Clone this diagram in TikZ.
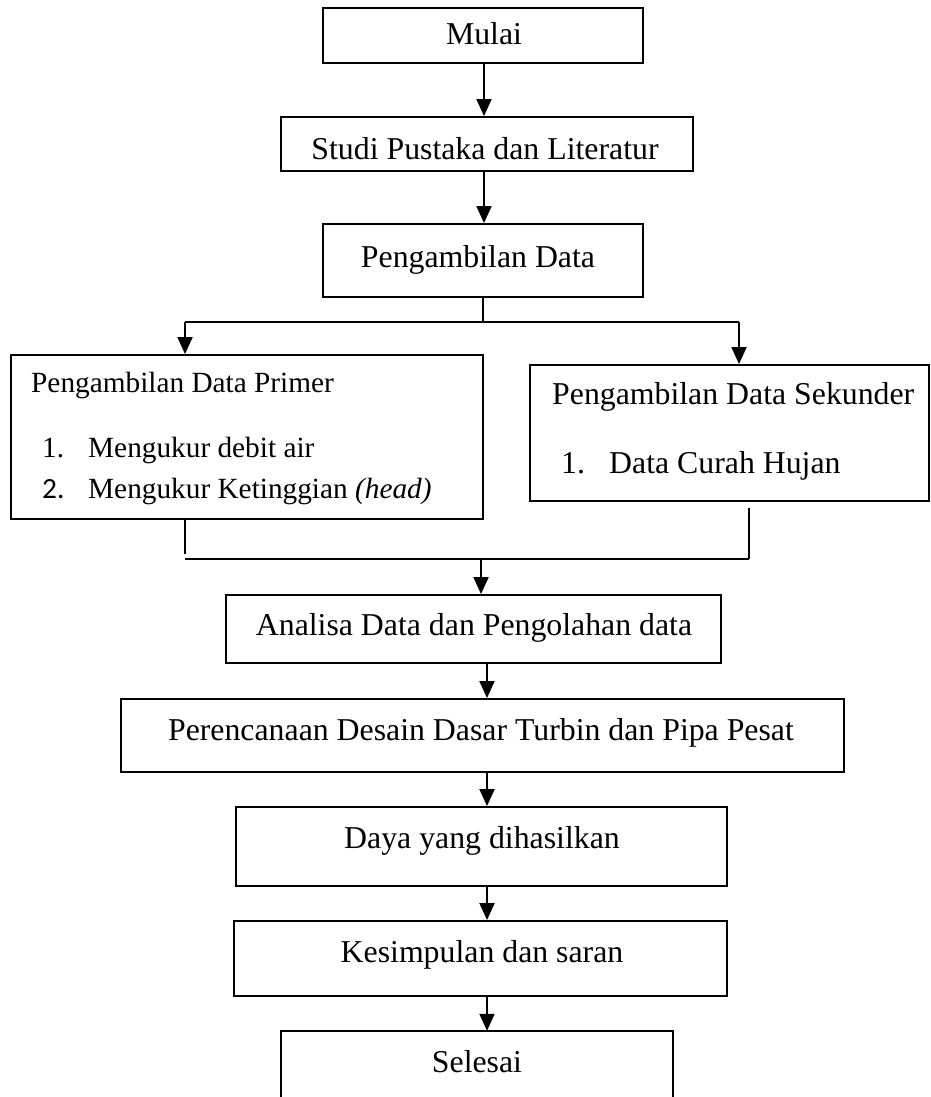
\documentclass[tikz,border=0pt]{standalone}
\usepackage{fontspec}
\setmainfont{Liberation Serif}
\newfontfamily\calib{Carlito}
\usetikzlibrary{arrows.meta,fit,calc}
\newcommand\fbig{\fontsize{31.8pt}{38pt}\selectfont}
\newcommand\fsmall{\fontsize{29.3pt}{35pt}\selectfont}
\begin{document}
\begin{tikzpicture}[x=1pt,y=-1pt,
  box/.style={draw, line width=1.9pt, inner sep=0pt, rectangle},
  lbl/.style={inner sep=0pt, font=\fbig},
  slbl/.style={inner sep=0pt, font=\fsmall},
  conn/.style={line width=1.9pt},
  arr/.style={line width=1.9pt, -{Triangle[length=17pt,width=15pt]}}]
\useasboundingbox (0,0) rectangle (931,1097);
% boxes
\node[box, fit={(323,8) (643,63)}] (mulai) {};
\node[box, fit={(281,117) (693,171)}] (studi) {};
\node[box, fit={(323,224) (643,297)}] (pdata) {};
\node[box, fit={(11,355) (483,519)}] (primer) {};
\node[box, fit={(530,365) (929,501)}] (sekunder) {};
\node[box, fit={(226,595) (721,663)}] (analisa) {};
\node[box, fit={(121,699) (844,772)}] (perenc) {};
\node[box, fit={(236,807) (727,886)}] (daya) {};
\node[box, fit={(234,921) (727,996)}] (kesimp) {};
\node[inner sep=0pt, fit={(281,1031) (673,1100)}] (selesai) {};
\draw[line width=1.9pt] (selesai.south west) -- (selesai.north west) -- (selesai.north east) -- (selesai.south east);
% texts
\node[lbl, anchor=base] (tmulai) at (484,45) {Mulai};
\node[lbl, anchor=base] (tstudi) at (485,159) {Studi Pustaka dan Literatur};
\node[lbl, anchor=base] (tpdata) at (478,267) {Pengambilan Data};
\node[slbl, anchor=base west] (tprimer) at (31,392) {Pengambilan Data Primer};
\node[slbl, anchor=base west] (n1) at (42,457) {1.};
\node[slbl, anchor=base west] (p1) at (88,457) {Mengukur debit air};
\node[slbl, anchor=base west] (n2) at (42,498) {\calib 2.};
\node[slbl, anchor=base west] (p2) at (88,498) {Mengukur Ketinggian \textit{(head)}};
\node[lbl, anchor=base west] (tsek) at (552,404) {Pengambilan Data Sekunder};
\node[lbl, anchor=base west] (m1) at (561,473) {1.};
\node[lbl, anchor=base west] (s1) at (609,473) {Data Curah Hujan};
\node[lbl, anchor=base] (tanalisa) at (474,635) {Analisa Data dan Pengolahan data};
\node[lbl, anchor=base] (tperenc) at (481,740) {Perencanaan Desain Dasar Turbin dan Pipa Pesat};
\node[lbl, anchor=base] (tdaya) at (482,848) {Daya yang dihasilkan};
\node[lbl, anchor=base] (tkesimp) at (482,962) {Kesimpulan dan saran};
\node[lbl, anchor=base] (tselesai) at (477,1072) {Selesai};
% connectors
\coordinate (tx) at (484,0);
\draw[arr] (mulai.south -| tx) -- (studi.north -| tx);
\draw[arr] (studi.south -| tx) -- (pdata.north -| tx);
\coordinate (sl) at (185,322);
\coordinate (sr) at (739,322);
\draw[conn] (pdata.south) -- (pdata.south |- sl);
\draw[conn] (sl) -- (sr);
\draw[arr] (sl) -- (sl |- primer.north);
\draw[arr] (sr) -- (sr |- sekunder.north);
\coordinate (ml) at (185,559);
\coordinate (mr) at (749,559);
\coordinate (mm) at (481,559);
\draw[conn] (primer.south -| ml) -- ([yshift=5pt]ml);
\draw[conn] ([yshift=-6pt]sekunder.south -| mr) -- (mr);
\draw[line width=1.6pt] (ml) -- (mr);
\draw[arr] (mm) -- (mm |- analisa.north);
\coordinate (ax) at (487,0);
\draw[arr] (analisa.south -| ax) -- (perenc.north -| ax);
\draw[arr] (perenc.south -| ax) -- (daya.north -| ax);
\draw[arr] (daya.south -| ax) -- (kesimp.north -| ax);
\draw[arr] (kesimp.south -| ax) -- (selesai.north -| ax);
\end{tikzpicture}
\end{document}
